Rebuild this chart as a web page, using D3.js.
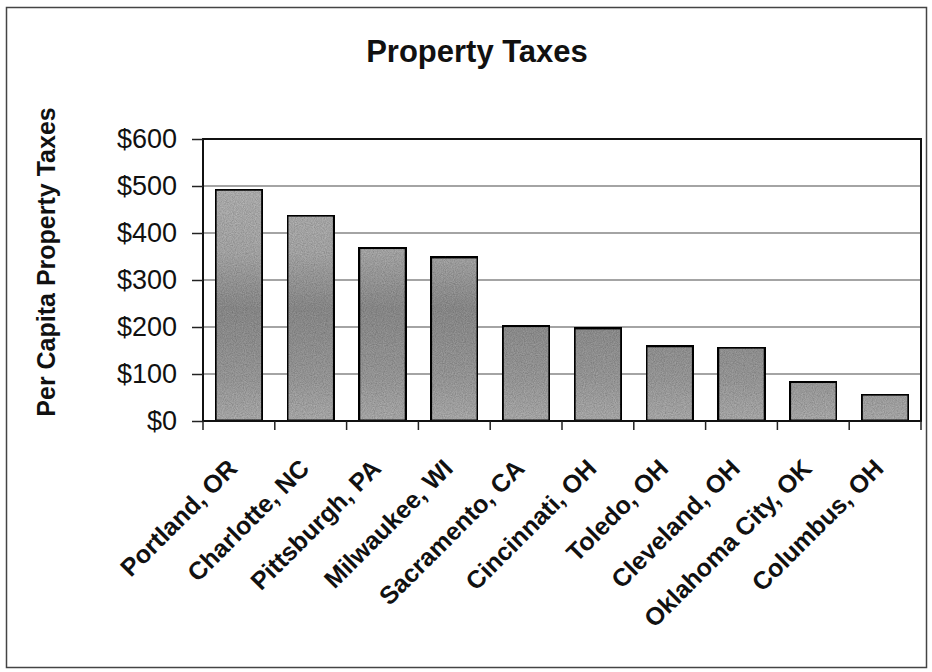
<!DOCTYPE html>
<html>
<head>
<meta charset="utf-8">
<script src="https://cdn.jsdelivr.net/npm/d3@7"></script>
<style>
  body { margin: 0; background: #fff; }
  svg text { font-family: Arial, "Liberation Sans", Helvetica, sans-serif; fill: #111; }
</style>
</head>
<body>
<svg id="chart" width="932" height="672"></svg>
<script>
// data
var cities = ["Portland, OR", "Charlotte, NC", "Pittsburgh, PA", "Milwaukee, WI",
              "Sacramento, CA", "Cincinnati, OH", "Toledo, OH", "Cleveland, OH",
              "Oklahoma City, OK", "Columbus, OH"];
var taxes = [493, 438, 369, 349, 203, 198, 160, 157, 84, 57];
var yTicks = [0, 100, 200, 300, 400, 500, 600];

var svg = d3.select("#chart");
var plotLeft = 203, plotRight = 921, plotTop = 139, plotBottom = 421;

// outer frame of the figure
svg.append("rect")
    .attr("x", 6.5).attr("y", 7.5)
    .attr("width", 920).attr("height", 660)
    .attr("fill", "none")
    .attr("stroke", "#444")
    .attr("stroke-width", 1.5);

var x = d3.scaleBand()
    .domain(cities)
    .range([plotLeft, plotRight])
    .padding(0);
var y = d3.scaleLinear()
    .domain([0, 600])
    .range([plotBottom, plotTop]);

// bar fill: grey, darker through the middle like the scan
var defs = svg.append("defs");
var grad = defs.append("linearGradient")
    .attr("id", "barfill")
    .attr("gradientUnits", "userSpaceOnUse")
    .attr("x1", 0).attr("x2", 0)
    .attr("y1", plotTop).attr("y2", plotBottom);
grad.append("stop").attr("offset", "0%").attr("stop-color", "#c0c0c0");
grad.append("stop").attr("offset", "40%").attr("stop-color", "#b0b0b0");
grad.append("stop").attr("offset", "60%").attr("stop-color", "#939393");
grad.append("stop").attr("offset", "85%").attr("stop-color", "#a2a2a2");
grad.append("stop").attr("offset", "100%").attr("stop-color", "#b4b4b4");

var grain = defs.append("filter").attr("id", "grain")
    .attr("x", 0).attr("y", 0).attr("width", 1).attr("height", 1);
grain.append("feTurbulence")
    .attr("type", "fractalNoise")
    .attr("baseFrequency", 0.9)
    .attr("numOctaves", 2)
    .attr("result", "noise");
grain.append("feColorMatrix")
    .attr("in", "noise")
    .attr("type", "matrix")
    .attr("values", "0 0 0 0 0  0 0 0 0 0  0 0 0 0 0  0 0 0 0.6 -0.1")
    .attr("result", "dots");
grain.append("feComposite")
    .attr("in", "dots").attr("in2", "SourceGraphic")
    .attr("operator", "in").attr("result", "dotsIn");
var merge = grain.append("feMerge");
merge.append("feMergeNode").attr("in", "SourceGraphic");
merge.append("feMergeNode").attr("in", "dotsIn");

// gridlines
svg.append("g")
  .selectAll("line")
  .data(yTicks.filter(function(d) { return d > 0 && d < 600; }))
  .enter()
  .append("line")
    .attr("x1", plotLeft).attr("x2", plotRight)
    .attr("y1", function(d) { return y(d); })
    .attr("y2", function(d) { return y(d); })
    .attr("stroke", "#4a4a4a")
    .attr("stroke-width", 1.2);

// bars
var barW = x.bandwidth() * 0.66;
svg.append("g")
  .selectAll("rect")
  .data(taxes)
  .enter()
  .append("rect")
    .attr("x", function(d, i) { return x(cities[i]) + (x.bandwidth() - barW) / 2; })
    .attr("y", function(d) { return y(d); })
    .attr("width", barW)
    .attr("height", function(d) { return y(0) - y(d); })
    .attr("fill", "url(#barfill)")
    .attr("filter", "url(#grain)")
    .attr("stroke", "#111")
    .attr("stroke-width", 3);

// plot frame
svg.append("rect")
    .attr("x", plotLeft).attr("y", plotTop)
    .attr("width", plotRight - plotLeft).attr("height", plotBottom - plotTop)
    .attr("fill", "none")
    .attr("stroke", "#111")
    .attr("stroke-width", 2);

// y axis
var yAxis = d3.axisLeft(y)
    .tickValues(yTicks)
    .tickSize(11)
    .tickPadding(15)
    .tickFormat(function(d) { return "$" + d; });
var yg = svg.append("g")
    .attr("transform", "translate(" + plotLeft + ",0)")
    .call(yAxis);
yg.select(".domain").remove();
yg.selectAll(".tick line").attr("stroke", "#222").attr("stroke-width", 1.5);
yg.selectAll(".tick text")
    .style("font-size", "27px")
    .attr("fill", "#111");

// x axis: ticks between categories
var xg = svg.append("g")
    .attr("transform", "translate(0," + plotBottom + ")");
xg.selectAll(".sep")
  .data(cities.concat(["end"]))
  .enter()
  .append("line")
    .attr("class", "sep")
    .attr("x1", function(d, i) { return i < cities.length ? x(d) : plotRight; })
    .attr("x2", function(d, i) { return i < cities.length ? x(d) : plotRight; })
    .attr("y1", 0).attr("y2", 9)
    .attr("stroke", "#222")
    .attr("stroke-width", 1.5);

// rotated city labels
svg.append("g")
  .selectAll("text")
  .data(cities)
  .enter()
  .append("text")
    .attr("transform", function(d) {
      return "translate(" + (x(d) + x.bandwidth() / 2) + "," + (plotBottom + 49) + ") rotate(-45)"; })
    .attr("text-anchor", "end")
    .style("font-size", "25px")
    .style("font-weight", "bold")
    .text(function(d) { return d; });

// title
svg.append("text")
    .attr("x", 477).attr("y", 62)
    .attr("text-anchor", "middle")
    .style("font-size", "31px")
    .style("font-weight", "bold")
    .text("Property Taxes");

// y axis title
svg.append("text")
    .attr("transform", "translate(55,262) rotate(-90)")
    .attr("text-anchor", "middle")
    .style("font-size", "25px")
    .style("font-weight", "bold")
    .text("Per Capita Property Taxes");
</script>
</body>
</html>
